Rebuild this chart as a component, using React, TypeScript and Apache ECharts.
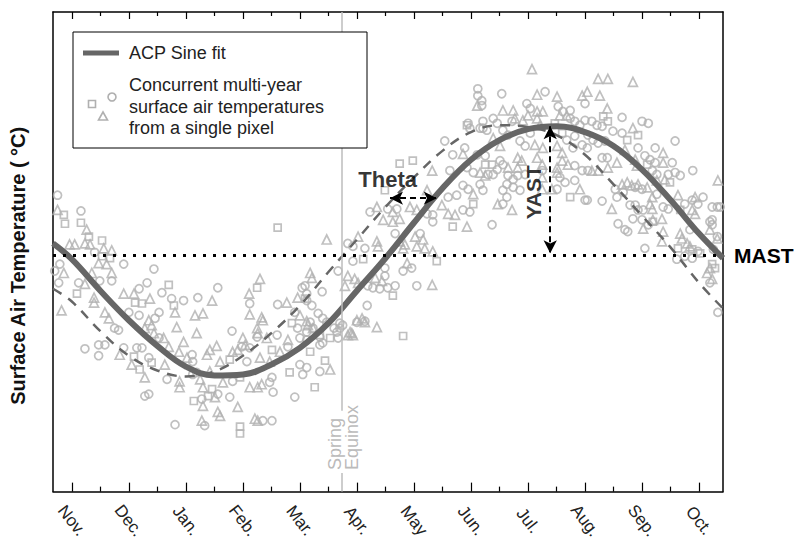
import React, { useEffect, useRef } from 'react';
import * as echarts from 'echarts';

// ---------- data ----------
const monthLabels = ['Nov.', 'Dec.', 'Jan.', 'Feb.', 'Mar.', 'Apr.', 'May', 'Jun.', 'Jul.', 'Aug.', 'Sep.', 'Oct.'];
const monthTicks = [0, 1, 2, 3, 4, 5, 6, 7, 8, 9, 10, 11];

const X_MIN = -0.33;
const X_MAX = 11.42;
const Y_MIN = -24;
const Y_MAX = 24.7;

// ACP sine fit (solid) and solar-phase sine (dashed)
const curveX = [-0.33, 0, 0.5, 1, 1.5, 2, 2.5, 3, 3.5, 4, 4.5, 5, 5.5, 6, 6.5, 7, 7.5, 8, 8.5, 9, 9.5, 10, 10.5, 11, 11.42];
const acpFitY = [1.2, -0.4, -3.6, -6.6, -9.2, -11.3, -12.2, -12.1, -11.1, -9.4, -6.9, -3.6, -0.3, 3.3, 6.8, 9.7, 11.7, 12.8, 13.1, 12.5, 11.1, 8.7, 5.6, 2.2, -0.3];
const solarSineY = [-3.4, -4.7, -7.7, -10.2, -11.7, -12.3, -11.8, -10.2, -7.9, -5.1, -1.7, 1.6, 4.9, 7.9, 10.6, 12.5, 13.2, 13.0, 12.2, 10.2, 7.2, 4.0, 0.8, -2.8, -5.4];

const mast = 0;
const equinox = 4.74;
const equinoxGap = [-15.8, -22.1];
const yast = { x: 8.39, top: 13.1, bottom: 0.2 };
const theta = { y: 5.8, from: 5.58, to: 6.4 };

const circles = [
  [-0.25, 6.1], [0.16, 4.5], [0.40, 0.3], [-0.21, -0.9], [-0.30, -1.6], [0.91, -0.9], [1.44, -1.4], [0.12, -2.8], [-0.23, -2.8], [0.49, -2.6],
  [0.70, -2.6], [1.32, -2.8], [1.58, -3.8], [1.18, -3.4], [1.75, -4.4], [1.96, -4.6], [1.00, -5.8], [1.18, -6.1], [1.53, -5.8], [1.46, -6.4],
  [0.75, -7.4], [0.82, -7.6], [1.53, -8.4], [0.23, -9.5], [0.47, -9.1], [0.58, -9.1], [0.47, -10.2], [0.91, -9.4], [1.14, -9.4], [1.23, -9.4],
  [1.35, -10.4], [1.67, -12.6], [1.35, -14.1], [1.28, -14.3], [1.81, -17.2],
  [4.09, -3.1], [4.04, -3.3], [4.39, -3.7], [4.12, -3.9], [2.56, -3.3], [2.21, -4.3], [3.12, -4.9], [3.61, -5.0], [4.32, -5.9], [3.91, -5.8],
  [2.81, -7.7], [3.96, -7.4], [4.47, -6.8], [4.60, -7.4], [4.65, -7.8], [3.25, -8.3], [3.60, -8.1], [4.00, -8.4], [4.12, -8.6], [4.35, -8.3],
  [4.40, -8.9], [2.98, -9.3], [3.12, -9.4], [3.79, -9.3], [2.11, -10.1], [2.12, -10.8], [3.07, -10.8], [4.00, -11.1], [4.12, -11.4], [4.35, -11.8],
  [2.12, -12.1], [2.19, -11.9], [3.51, -12.4], [3.47, -12.9], [2.82, -12.8], [2.56, -14.1], [2.77, -14.4], [3.53, -13.9], [3.91, -14.4], [2.28, -14.6],
  [2.33, -17.3], [3.35, -16.8], [3.51, -16.8],
  [4.12, -4.6], [4.21, -5.1], [4.40, -6.4], [4.18, -6.8], [4.12, -7.8], [4.23, -7.4], [4.35, -9.1], [4.05, -12.1], [4.75, -7.1], [5.00, -6.8], [5.18, -5.1],
  [6.54, 11.6], [6.68, 10.2], [6.63, 8.6], [5.54, 4.7], [5.70, 4.7], [5.23, 4.4], [6.23, 4.2], [6.33, 4.1], [6.33, 3.4], [6.60, 5.9],
  [6.75, 6.1], [5.14, 0.7], [5.67, 2.2], [6.11, 2.2], [4.84, 1.2], [4.93, 0.9], [4.93, -0.6], [4.67, -1.6], [5.81, -1.6], [5.96, -1.3],
  [5.49, -1.3], [5.49, -2.1], [5.19, -3.1], [5.28, -3.3], [6.05, -3.1], [5.54, -3.3], [5.67, -3.1], [5.40, -3.4], [5.14, -6.7], [4.70, -6.9],
  [4.70, -7.4], [4.67, -8.4],
  [6.95, 13.4], [6.98, 12.9], [7.21, 12.9],
  [7.12, 16.9], [7.12, 16.2], [7.19, 15.7], [7.19, 15.2], [7.54, 16.4], [8.30, 16.6], [9.00, 15.4], [7.98, 15.4], [8.04, 14.9], [8.53, 15.1],
  [8.61, 14.6], [8.74, 14.7], [7.39, 13.9], [7.46, 13.4], [7.21, 13.6], [7.72, 13.6], [8.74, 13.9], [8.82, 13.6], [8.91, 13.2], [9.00, 13.7],
  [7.16, 12.9], [7.28, 12.7], [7.56, 12.7], [7.65, 12.2], [8.04, 12.4], [8.68, 11.7], [8.82, 12.1], [7.86, 11.6], [7.95, 11.1], [6.89, 10.9],
  [8.79, 10.9], [8.95, 11.2], [7.11, 10.2], [7.25, 10.1], [7.51, 9.6], [7.56, 9.2], [7.46, 8.7], [8.82, 9.1], [8.95, 8.6], [6.93, 8.9],
  [7.04, 8.4], [7.30, 8.2], [7.39, 8.2], [7.65, 8.1], [7.74, 7.7], [7.82, 8.1], [7.95, 8.2], [8.25, 8.6], [8.56, 7.9], [8.65, 7.4],
  [8.82, 7.6], [7.63, 7.2], [7.74, 6.9], [7.16, 7.2], [6.86, 7.1], [6.95, 6.7], [7.21, 6.6], [7.56, 6.6], [7.86, 6.6], [8.51, 6.7],
  [7.63, 5.9], [9.00, 5.6], [7.56, 5.2], [6.98, 4.4], [6.86, 4.6], [7.37, 3.1],
  [9.65, 14.0], [9.12, 13.6], [9.21, 13.2], [9.30, 13.1], [10.00, 13.6], [10.11, 13.4], [9.49, 12.6], [9.65, 12.4], [10.58, 11.6], [9.05, 12.2],
  [9.14, 11.7], [9.23, 11.4], [9.35, 11.6], [9.04, 10.9], [9.93, 10.9], [10.23, 10.9], [9.39, 9.9], [9.30, 9.9], [10.05, 10.1], [10.14, 9.7],
  [10.23, 9.4], [10.53, 9.4], [10.89, 8.6], [9.05, 8.6], [10.18, 8.6], [10.26, 8.2], [10.46, 8.2], [10.58, 8.4], [10.67, 8.1], [9.53, 6.7],
  [9.67, 6.4], [9.88, 6.9], [10.00, 6.7], [9.04, 5.6], [9.30, 5.5], [9.56, 5.9], [10.26, 6.2], [10.75, 5.2], [10.88, 5.6], [10.98, 5.2],
  [11.07, 5.9], [11.23, 4.9], [11.32, 4.9], [11.37, 4.9], [9.79, 5.1], [9.88, 5.1], [9.93, 4.6], [10.37, 4.9], [10.46, 4.7], [9.84, 3.7],
  [9.58, 3.2], [10.00, 3.6], [10.11, 3.1], [9.70, 2.6], [9.75, 2.4], [11.19, 3.4], [10.05, 0.7], [11.25, 0.6], [11.33, -5.8],
  [10.02, 4.6], [10.84, 2.6], [11.23, 3.6], [11.23, 3.1], [11.32, 1.9], [10.98, 0.4], [10.75, -0.1], [10.88, -0.3], [10.61, -0.4], [11.19, -2.8],
];

const squares = [
  [-0.14, 4.1], [-0.12, 3.2], [0.16, 3.3], [0.30, 1.9], [0.53, 1.5], [0.53, -0.1], [0.67, -0.3], [1.70, -3.0], [0.09, -3.9], [1.11, -4.8],
  [1.23, -4.9], [1.79, -5.1], [1.09, -10.3], [1.40, -10.9], [1.19, -11.6],
  [3.61, 2.8], [4.09, -4.4], [3.25, -3.3], [3.86, -6.9], [3.51, -9.6], [4.18, -9.8], [4.44, -10.7], [2.77, -10.6], [3.82, -11.9], [2.95, -12.4],
  [4.26, -13.4], [2.46, -13.6], [2.39, -14.3], [2.14, -14.8], [2.95, -17.4], [2.95, -18.1],
  [4.35, -8.1], [4.53, -8.4],
  [5.98, 9.6], [5.75, 9.3], [5.49, 6.6], [6.68, 2.9], [5.11, -0.4], [6.40, -0.6], [5.63, -4.1], [5.81, -8.2],
  [6.93, 13.2],
  [8.47, 13.4], [8.60, 12.4], [7.25, 9.2], [7.37, 9.2], [8.74, 5.9], [7.04, 5.2],
  [9.32, 14.1], [9.40, 13.6], [9.93, 12.2], [9.74, 11.7], [10.09, 9.2], [10.49, 7.4], [10.67, 4.6], [10.19, 3.4], [10.63, 0.7], [10.88, 0.6],
  [11.02, 0.2], [11.23, -0.9], [11.28, -1.3],
];

const triangles = [
  [-0.25, 4.6], [0.26, 2.6], [0.23, 1.2], [0.32, 1.1], [-0.04, 1.1], [0.05, 1.1], [0.56, 0.7], [0.70, 0.5], [-0.14, -1.8], [0.47, -0.8],
  [0.61, -0.9], [0.35, -1.8], [0.70, -1.8], [0.23, -2.9], [-0.18, -5.6], [0.39, -4.3], [0.39, -4.8], [0.91, -3.9], [1.09, -3.9], [1.37, -4.4],
  [1.81, -5.8], [0.58, -5.8], [0.65, -6.4], [1.35, -6.6], [1.40, -7.1], [1.28, -7.4], [1.84, -7.3], [1.44, -7.9], [1.61, -8.4], [1.70, -9.3],
  [1.96, -8.8], [1.88, -9.8], [0.84, -10.1], [1.05, -11.1], [1.63, -11.1], [1.28, -12.4], [1.89, -12.8], [1.89, -13.4], [2.02, -10.4],
  [4.47, 1.6], [4.18, -1.8], [4.21, -2.3], [3.96, -4.3], [3.30, -2.4], [2.46, -4.6], [3.11, -3.9], [3.12, -6.0], [3.77, -4.8], [2.16, -6.1],
  [2.30, -5.9], [3.33, -6.3], [3.35, -6.6], [4.00, -6.1], [4.12, -6.7], [3.25, -7.4], [3.26, -7.9], [2.19, -7.9], [4.14, -7.1], [4.23, -7.4],
  [3.00, -8.4], [3.04, -9.1], [3.42, -8.4], [3.79, -8.6], [2.54, -9.2], [2.42, -9.6], [2.37, -10.1], [2.82, -9.8], [2.91, -9.6], [3.65, -9.8],
  [2.60, -10.8], [3.30, -10.4], [3.47, -10.8], [4.53, -11.6], [2.42, -11.8], [2.65, -12.9], [2.25, -12.6], [3.12, -13.4], [3.26, -13.4], [3.33, -13.1],
  [2.30, -13.4], [2.51, -14.4], [2.30, -15.3], [2.91, -15.4], [2.56, -15.9], [2.60, -16.3], [2.28, -16.8], [3.21, -16.6], [3.26, -16.8],
  [4.88, -7.8], [4.93, -8.1], [5.14, -6.8], [5.35, -7.3],
  [6.32, 8.6], [6.23, 6.6], [5.35, 4.9], [5.63, 4.4], [5.46, 3.6], [5.63, 3.4], [5.75, 3.7], [5.93, 4.9], [6.05, 4.6], [6.49, 5.1],
  [6.60, 4.2], [6.72, 4.1], [5.02, 1.9], [5.35, 1.4], [5.37, 0.9], [5.75, 1.4], [5.84, 1.1], [5.81, 0.7], [6.02, 1.9], [6.16, 1.6],
  [6.05, 0.9], [6.19, 0.7], [6.33, 0.4], [5.88, -0.8], [4.84, -2.1], [4.96, -2.4], [5.32, -2.3], [5.44, -2.6], [5.02, -2.8], [6.32, -3.0],
  [4.79, -3.1], [5.09, -6.4], [5.00, -6.6], [4.91, -7.9], [4.84, -8.1],
  [7.11, 15.2], [6.86, 10.3],
  [8.07, 18.9], [8.16, 16.3], [8.51, 16.1], [8.95, 16.2], [7.56, 14.7], [7.74, 14.7], [8.16, 14.6], [8.26, 14.6], [7.77, 13.9], [7.91, 13.7],
  [8.00, 14.2], [8.16, 13.9], [8.21, 13.2], [8.56, 14.2], [8.68, 14.2], [7.39, 11.9], [7.51, 11.1], [8.12, 11.2], [8.26, 10.9], [8.51, 11.1],
  [8.60, 10.4], [7.82, 9.9], [7.89, 9.6], [8.16, 9.9], [8.25, 9.2], [7.65, 8.9], [7.82, 8.9], [8.60, 9.6], [8.70, 9.2], [8.51, 8.9],
  [8.51, 8.4], [7.16, 8.4], [7.25, 8.1], [8.25, 7.9], [7.04, 6.2], [8.25, 6.7], [8.42, 6.7], [8.91, 6.7], [7.47, 5.2], [7.72, 4.6], [6.93, 2.9],
  [9.23, 17.9], [9.40, 17.9], [9.84, 17.6], [9.26, 16.2], [9.04, 16.6], [9.39, 14.9], [9.84, 12.9], [10.37, 10.4], [9.70, 10.7], [9.56, 9.4],
  [9.88, 9.7], [9.91, 9.1], [10.37, 9.4], [9.12, 8.6], [9.23, 8.6], [9.40, 8.9], [10.26, 7.6], [10.40, 7.7], [11.33, 7.6], [9.65, 7.2],
  [9.74, 7.4], [9.82, 7.1], [9.93, 7.2], [10.09, 6.9], [10.18, 5.9], [10.63, 6.1], [10.93, 5.9], [10.14, 5.2], [10.18, 4.7], [9.47, 4.7],
  [10.88, 4.6], [10.93, 4.2], [10.35, 3.7], [10.37, 2.4], [11.19, 2.6], [10.67, 2.2], [10.70, 1.7], [10.79, 1.2], [10.35, 1.4], [11.32, 1.7],
  [11.14, -1.8], [11.23, -2.4],
  [10.19, 3.6], [10.02, 2.7], [10.84, 0.9], [11.19, -1.3],
];

// ---------- styles ----------
const FONT = '"Liberation Sans", Arial, Helvetica, sans-serif';
const PT = '#b0b0b0';
const CURVE = '#666666';

function buildOption() {
  const hollow = { color: 'rgba(255,255,255,0)', borderColor: PT, borderWidth: 1.7 };
  const axisLineStyle = { color: '#000', width: 1.5 };
  const tickStyle = { color: '#000', width: 1.2 };

  return {
    animation: false,
    textStyle: { fontFamily: FONT },
    grid: { left: 53, right: 74, top: 12, bottom: 43, containLabel: false },
    xAxis: [
      {
        type: 'value', position: 'bottom', min: X_MIN, max: X_MAX, splitNumber: 12,
        axisLine: { show: true, onZero: false, lineStyle: axisLineStyle },
        axisTick: { show: true, inside: true, length: 9, customValues: monthTicks, lineStyle: tickStyle },
        minorTick: { show: true, splitNumber: 2, length: 5, lineStyle: tickStyle },
        axisLabel: {
          show: true, customValues: monthTicks,
          formatter: (v: number) => monthLabels[Math.round(v)] ?? '',
          rotate: -52, align: 'center', verticalAlign: 'middle', margin: 29,
          fontSize: 17, color: '#222', fontFamily: FONT,
        },
        splitLine: { show: false }, minorSplitLine: { show: false },
      },
      {
        type: 'value', position: 'top', min: X_MIN, max: X_MAX, splitNumber: 12,
        axisLine: { show: true, onZero: false, lineStyle: axisLineStyle },
        axisTick: { show: true, inside: true, length: 7, customValues: monthTicks, lineStyle: tickStyle },
        minorTick: { show: true, splitNumber: 2, length: 4, lineStyle: tickStyle },
        axisLabel: { show: false },
        splitLine: { show: false }, minorSplitLine: { show: false },
      },
    ],
    yAxis: [
      {
        type: 'value', position: 'left', min: Y_MIN, max: Y_MAX,
        axisLine: { show: true, onZero: false, lineStyle: axisLineStyle },
        axisTick: { show: false }, axisLabel: { show: false }, splitLine: { show: false },
        name: 'Surface Air Temperature ( °C)', nameLocation: 'middle', nameGap: 25,
        nameTextStyle: { fontWeight: 'bold', fontSize: 20, color: '#111', fontFamily: FONT, padding: [0, 28, 0, 0] },
      },
      {
        type: 'value', position: 'right', min: Y_MIN, max: Y_MAX,
        axisLine: { show: true, onZero: false, lineStyle: axisLineStyle },
        axisTick: { show: false }, axisLabel: { show: false }, splitLine: { show: false },
      },
    ],
    series: [
      // Equinox vertical line
      {
        type: 'line', data: [], silent: true, z: 1,
        markLine: {
          silent: true, symbol: ['none', 'none'], animation: false,
          lineStyle: { color: '#bdbdbd', width: 1.5, type: 'solid' },
          label: { show: false },
          data: [
            [{ coord: [equinox, Y_MAX] }, { coord: [equinox, equinoxGap[0]] }],
            [{ coord: [equinox, equinoxGap[1]] }, { coord: [equinox, Y_MIN] }],
          ],
        },
      },
      { type: 'scatter', name: 'circles', data: circles, symbol: 'circle', symbolSize: 8, itemStyle: hollow, silent: true, z: 2 },
      { type: 'scatter', name: 'squares', data: squares, symbol: 'rect', symbolSize: 7, itemStyle: hollow, silent: true, z: 2 },
      { type: 'scatter', name: 'triangles', data: triangles, symbol: 'triangle', symbolSize: 9, itemStyle: hollow, silent: true, z: 2 },
      {
        type: 'line', name: 'solar', data: curveX.map((x, i) => [x, solarSineY[i]]), smooth: 0.4, symbol: 'none', silent: true, z: 3,
        lineStyle: { color: CURVE, width: 2.5, type: [10, 8] },
      },
      {
        type: 'line', name: 'ACP Sine fit', data: curveX.map((x, i) => [x, acpFitY[i]]), smooth: 0.4, symbol: 'none', silent: true, z: 4,
        lineStyle: { color: CURVE, width: 6 },
      },
      // MAST dotted line
      {
        type: 'line', data: [], silent: true, z: 5,
        markLine: {
          silent: true, symbol: ['none', 'none'], animation: false,
          lineStyle: { color: '#000', width: 3, type: [3, 7] },
          label: { show: true, position: 'end', formatter: 'MAST', fontWeight: 'bold', fontSize: 21, color: '#000', distance: 11, fontFamily: FONT },
          data: [{ yAxis: mast }],
        },
      },
      // Theta and YAST arrows
      {
        type: 'line', data: [], silent: true, z: 6,
        markLine: {
          silent: true, symbol: ['arrow', 'arrow'], symbolSize: [10, 13], animation: false,
          itemStyle: { color: '#000' },
          lineStyle: { color: '#000', width: 2, type: [6, 4] },
          label: { show: false },
          data: [
            [{ coord: [theta.from, theta.y] }, { coord: [theta.to, theta.y] }],
            [{ coord: [yast.x, yast.top] }, { coord: [yast.x, yast.bottom] }],
          ],
        },
      },
      // annotation texts
      {
        type: 'scatter', symbolSize: 0, silent: true, z: 7,
        label: { show: true, position: 'inside', fontWeight: 'bold', fontSize: 22, color: '#000', fontFamily: FONT },
        data: [
          { value: [5.54, 7.7], label: { formatter: 'Theta' } },
          { value: [8.09, 6.4], label: { formatter: 'YAST', rotate: 90, fontSize: 21 } },
          {
            value: [4.77, -21.8],
            label: {
              formatter: 'Spring\nEquinox', rotate: 90, align: 'left', verticalAlign: 'middle',
              fontWeight: 'normal', fontSize: 18, lineHeight: 17, color: '#a8a8a8',
            },
          },
        ],
      },
    ],
    graphic: [
      { type: 'rect', z: 100, shape: { x: 73, y: 32, width: 294, height: 116 }, style: { fill: '#fff', stroke: '#000', lineWidth: 1 } },
      { type: 'line', z: 101, shape: { x1: 83, y1: 53, x2: 119, y2: 53 }, style: { stroke: CURVE, lineWidth: 5 } },
      { type: 'text', z: 101, x: 129, y: 53, style: { text: 'ACP Sine fit', fontSize: 18, fontFamily: FONT, fill: '#222', align: 'left', verticalAlign: 'middle' } },
      { type: 'text', z: 101, x: 129, y: 85, style: { text: 'Concurrent multi-year', fontSize: 18, fontFamily: FONT, fill: '#222', align: 'left', verticalAlign: 'middle' } },
      { type: 'text', z: 101, x: 129, y: 107, style: { text: 'surface air temperatures', fontSize: 18, fontFamily: FONT, fill: '#222', align: 'left', verticalAlign: 'middle' } },
      { type: 'text', z: 101, x: 129, y: 128, style: { text: 'from a single pixel', fontSize: 18, fontFamily: FONT, fill: '#222', align: 'left', verticalAlign: 'middle' } },
      { type: 'rect', z: 101, shape: { x: 88.5, y: 100.5, width: 7, height: 7 }, style: { fill: 'none', stroke: PT, lineWidth: 1.6 } },
      { type: 'circle', z: 101, shape: { cx: 112, cy: 97, r: 4 }, style: { fill: 'none', stroke: PT, lineWidth: 1.6 } },
      { type: 'polygon', z: 101, shape: { points: [[103, 112], [107.5, 120], [98.5, 120]] }, style: { fill: 'none', stroke: PT, lineWidth: 1.6 } },
    ],
  };
}

export default function App() {
  const ref = useRef<HTMLDivElement>(null);
  useEffect(() => {
    if (!ref.current) return;
    const chart = echarts.init(ref.current, null, { renderer: 'svg' });
    chart.setOption(buildOption() as any);
    return () => chart.dispose();
  }, []);
  return <div ref={ref} style={{ position: 'fixed', left: 0, top: 0, width: 797, height: 542, background: '#fff' }} />;
}
